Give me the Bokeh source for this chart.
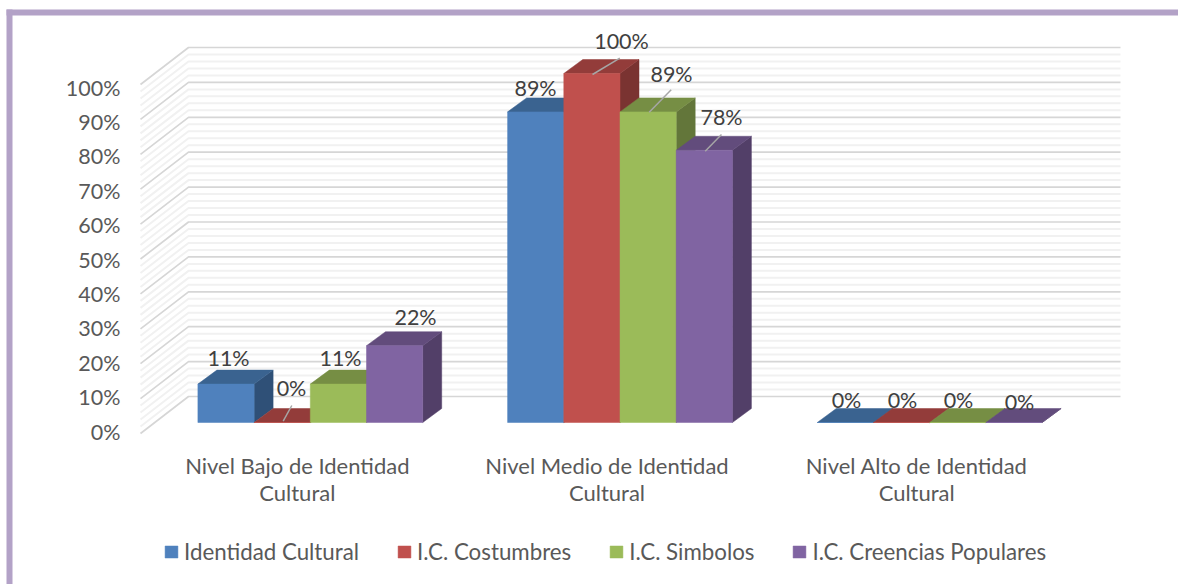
from bokeh.plotting import figure
from bokeh.models import Range1d, LinearAxis, FixedTicker, Legend, LegendItem, BoxAnnotation
from bokeh.core.properties import value
from bokeh.embed import file_html
from bokeh.resources import INLINE

# ---- data ----
categories = ["Nivel Bajo de Identidad\nCultural", "Nivel Medio de Identidad\nCultural", "Nivel Alto de Identidad\nCultural"]
series_names = ["Identidad Cultural", "I.C. Costumbres", "I.C. Simbolos", "I.C. Creencias Populares"]
identidad = [11, 89, 0]
costumbres = [0, 100, 0]
simbolos = [11, 89, 0]
creencias = [22, 78, 0]
y_ticks = [0, 10, 20, 30, 40, 50, 60, 70, 80, 90, 100]

# ---- styles ----
front = ["#4F81BD", "#C0504D", "#9BBB59", "#8064A2"]
top = ["#3A6390", "#933C3A", "#768E44", "#624C7C"]
side = ["#2F5077", "#7A3331", "#63763A", "#523F68"]
FONT = "Lato"
FS = "21.5px"
FS_CAT = "22px"
FS_LEG = "22.3px"
W, H = 1178, 584

# pixel scale of the plot (picture pixels per data unit)
GROUP_PX, PCT_PX = 309.7, 3.49
X0_PX, Y0_PX = 309.8, 422.0
def X(px): return (px - X0_PX) / GROUP_PX
def Y(py): return (Y0_PX - py) / PCT_PX
BAR = 56.2 / GROUP_PX
DX, DY = 19 / GROUP_PX, 14 / PCT_PX

p = figure(width=W, height=H, output_backend="svg", toolbar_location=None,
           x_range=Range1d(X(0), X(W)), y_range=Range1d(Y(H), Y(0)),
           x_axis_location=None, y_axis_location=None,
           min_border=0, min_border_left=0, min_border_right=0, min_border_top=0, min_border_bottom=0,
           outline_line_color=None, margin=0)
p.grid.visible = False

# frame of the picture
FRAME = "#B3A2C7"
p.add_layout(BoxAnnotation(left=X(6), right=X(W), top=Y(9), bottom=Y(15), fill_color=FRAME, fill_alpha=1, line_color=None))
p.add_layout(BoxAnnotation(left=X(6), right=X(12), top=Y(9), bottom=Y(H), fill_color=FRAME, fill_alpha=1, line_color=None))

# walls: minor, then major gridlines
x_front, x_back, x_end = X(140), X(188), X(1120)
y_front = Y(433)
y_back = Y(396)
def wall(vals, color, lw):
    p.multi_line([[x_front, x_back, x_end] for _ in vals],
                 [[y_front + v, y_back + v, y_back + v] for v in vals],
                 line_color=color, line_width=lw)
minor = [t + k for t in y_ticks[:-1] for k in (2, 4, 6, 8)]
wall(minor, "#F1F1F1", 2)
wall(y_ticks, "#D6D6D6", 1.7)

# bars
all_series = [identidad, costumbres, simbolos, creencias]
legend_items = []
for s, vals in enumerate(all_series):
    lefts = [g - 2 * BAR + s * BAR for g in range(len(vals))]
    rights = [l + BAR for l in lefts]
    p.patches([[r, r + DX, r + DX, r] for r in rights],
              [[0, DY, v + DY, v] for v in vals],
              fill_color=side[s], line_color=side[s], line_width=0.5)
    p.patches([[l, r, r + DX, l + DX] for l, r in zip(lefts, rights)],
              [[v, v, v + DY, v + DY] for v in vals],
              fill_color=top[s], line_color=top[s], line_width=0.5)
    q = p.quad(left=lefts, right=rights, bottom=[0] * len(vals), top=vals,
               fill_color=front[s], line_color=front[s], line_width=0.5)
    legend_items.append(LegendItem(label=series_names[s], renderers=[q]))

# data labels (centre position in picture pixels, per series and group)
label_px = [[(228, 357), (535, 87), (846, 399)],
            [(291, 387), (621, 40), (902, 399)],
            [(340, 357), (671, 73), (958, 399)],
            [(415, 316), (721, 116), (1019, 401)]]
for s, vals in enumerate(all_series):
    p.text([X(a) for a, b in label_px[s]], [Y(b) for a, b in label_px[s]],
           text=[f"{v}%" for v in vals], text_font=value(FONT), text_font_size=FS,
           text_color="#404040", text_align="center", text_baseline="middle")

# leader lines
leaders = [((282.7, 420.7), (291.3, 405)), ((592, 74), (619.3, 57.7)),
           ((648.7, 111.7), (670.7, 89.3)), ((704.7, 150.7), (721, 134))]
p.multi_line([[X(a[0]), X(b[0])] for a, b in leaders], [[Y(a[1]), Y(b[1])] for a, b in leaders],
             line_color="#A6A6A6", line_width=1.5)

# value axis inside the frame
p.extra_y_ranges["labels"] = Range1d((431 - H) / 3.44, (431 - 0) / 3.44)
axis = LinearAxis(y_range_name="labels", ticker=FixedTicker(ticks=y_ticks),
                  major_label_overrides={t: f"{t}%" for t in y_ticks},
                  axis_line_color=None, major_tick_line_color=None, minor_tick_line_color=None,
                  major_tick_out=0, major_tick_in=0, minor_tick_out=0, minor_tick_in=0,
                  major_label_standoff=0,
                  major_label_text_font=FONT, major_label_text_font_size=FS,
                  major_label_text_color="#595959", fixed_location=X(120))
p.add_layout(axis, "left")

# category labels
cat_x = [g - 13 / GROUP_PX for g in range(3)]
p.text(cat_x, [Y(478.5)] * 3, text=categories, text_font=value(FONT), text_font_size=FS_CAT,
       text_color="#595959", text_align="center", text_baseline="middle", text_line_height=1.02)

# legend
legend = Legend(items=legend_items, orientation="horizontal", location=(163, 584 - 565),
                glyph_width=16, glyph_height=15, label_standoff=5, spacing=37, padding=4,
                margin=0, border_line_color=None, background_fill_alpha=0,
                label_text_font=FONT, label_text_font_size=FS_LEG, label_text_color="#595959")
p.add_layout(legend, "center")

open("out.html", "w").write(file_html(p, INLINE))
